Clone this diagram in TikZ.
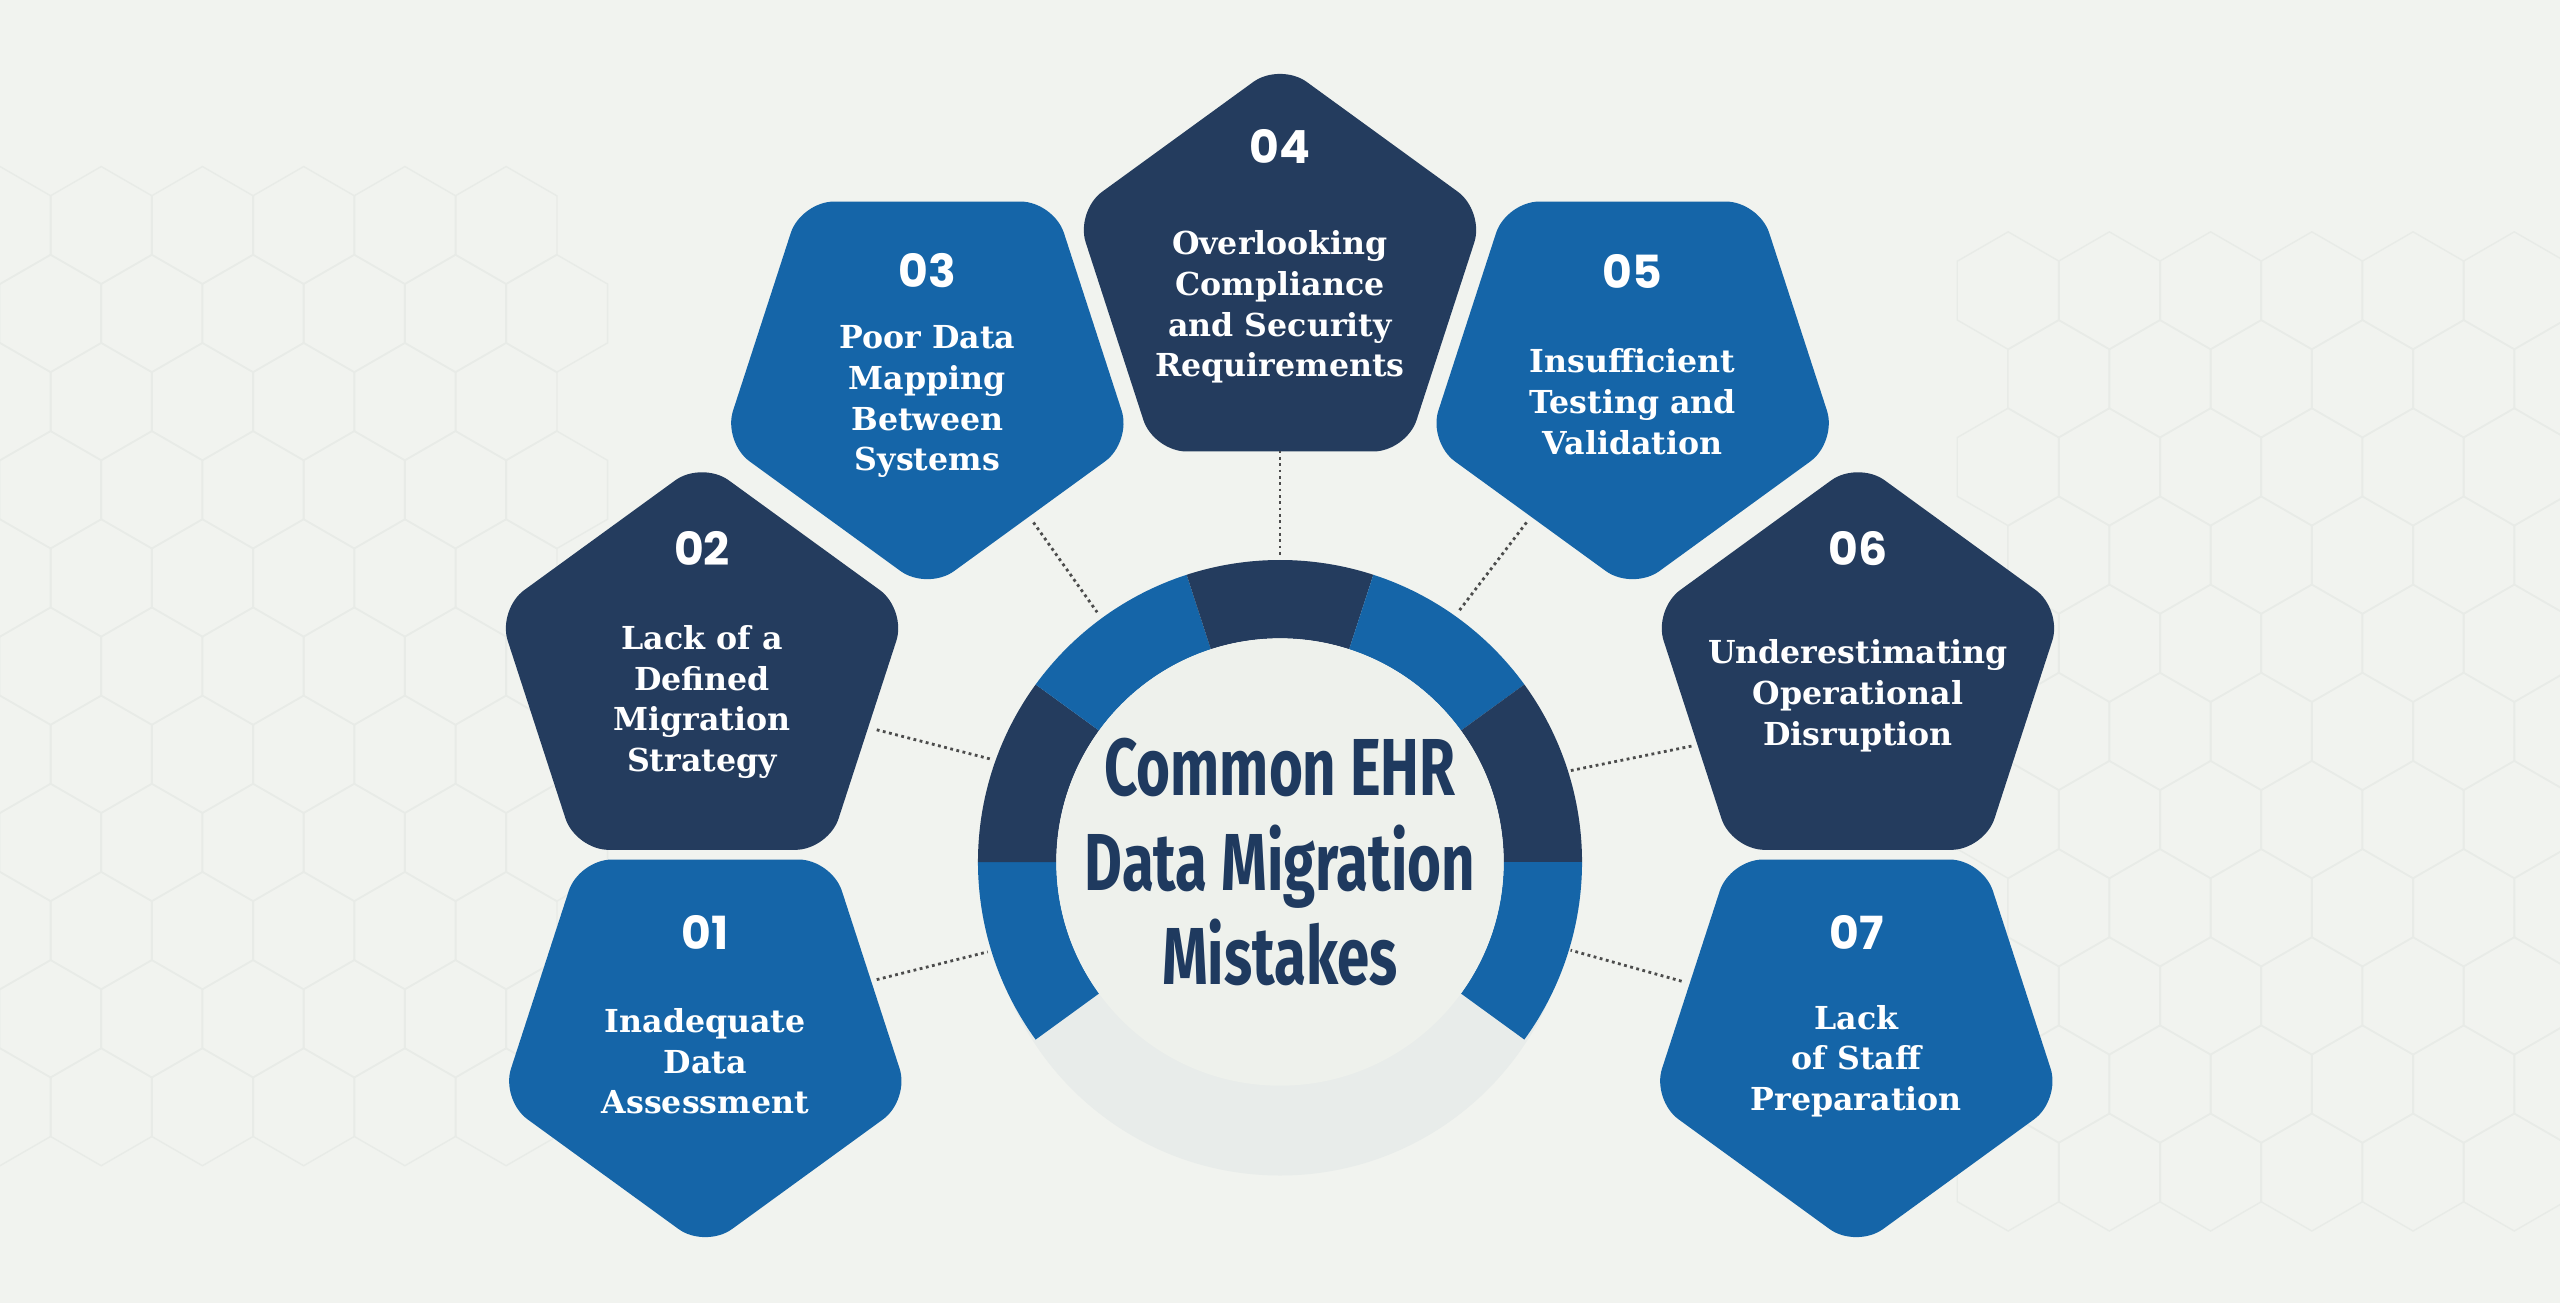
\documentclass[tikz,border=0pt]{standalone}
\usepackage{fontspec}
\setmainfont{DejaVu Serif}
\newfontfamily\numfont{Poppins}
\newfontfamily\titlefont[FakeStretch=0.72]{Fira Sans}
\usetikzlibrary{shapes.geometric, calc}
\definecolor{bgcol}{HTML}{F1F3EF}
\definecolor{hexcol}{HTML}{E8EBE7}
\definecolor{blucol}{HTML}{1565A8}
\definecolor{drkcol}{HTML}{243C5E}
\definecolor{halocol}{HTML}{E8ECEA}
\definecolor{innercol}{HTML}{EEF1EC}
\definecolor{titlecol}{HTML}{1F3A5F}
\tikzset{
  pent/.style={regular polygon, regular polygon sides=5, minimum size=4.3cm,
    inner sep=0pt, rounded corners=0.33cm, draw=none},
  pentdown/.style={pent, shape border rotate=180},
  numtxt/.style={text=white, font=\numfont\bfseries\fontsize{13}{13}\selectfont},
  labtxt/.style={text=white, align=center, font=\bfseries\fontsize{9}{11.6}\selectfont},
  linkline/.style={densely dotted, thick, draw=black!70}
}
\begin{document}
\begin{tikzpicture}[x=0.016327cm, y=0.016327cm]
\fill[bgcol] (0,0) rectangle (1568,798);
\useasboundingbox (0,0) rectangle (1568,798);

% faint hexagons in the background
\foreach \i in {0,...,5}{
  \foreach \j in {0,...,10}{
    \pgfmathsetmacro{\hx}{\i*62+mod(\j,2)*31}
    \pgfmathsetmacro{\hy}{120+\j*54}
    \draw[hexcol] (\hx,\hy) +(30:36) -- +(90:36) -- +(150:36) -- +(210:36) -- +(270:36) -- +(330:36) -- cycle;
    \draw[hexcol] (\hx+1230,\hy-40) +(30:36) -- +(90:36) -- +(150:36) -- +(210:36) -- +(270:36) -- +(330:36) -- cycle;
  }
}

% centre ring
\coordinate (c) at (784,270);
\fill[halocol] (784,258) circle (180);
\foreach \a/\col in {180/blucol, 144/drkcol, 108/blucol, 72/drkcol, 36/blucol, 0/drkcol, -36/blucol}{
  \fill[\col] ($(c)+(\a:185)$) arc[start angle=\a, end angle=\a+36, radius=185]
    -- ($(c)+(\a+36:137)$) arc[start angle=\a+36, end angle=\a, radius=137] -- cycle;
}
\fill[innercol] (c) circle (137);
\node[text=titlecol, align=center, font=\titlefont\bfseries\fontsize{23}{27}\selectfont] (title) at (c) {Common EHR\\Data Migration\\Mistakes};

% pentagons
\node[pentdown, fill=blucol] (p1) at (432,165) {};
\node[pent, fill=drkcol] (p2) at (430,384) {};
\node[pentdown, fill=blucol] (p3) at (568,568) {};
\node[pent, fill=drkcol] (p4) at (784,628) {};
\node[pentdown, fill=blucol] (p5) at (1000,568) {};
\node[pent, fill=drkcol] (p6) at (1138,384) {};
\node[pentdown, fill=blucol] (p7) at (1137,165) {};

\node[numtxt] (n1) at (432,227) {01};
\node[numtxt] (n2) at (430,462) {02};
\node[numtxt] (n3) at (568,632) {03};
\node[numtxt] (n4) at (784,708) {04};
\node[numtxt] (n5) at (1000,632) {05};
\node[numtxt] (n6) at (1138,462) {06};
\node[numtxt] (n7) at (1137,227) {07};

\node[labtxt] (l1) at (432,148) {Inadequate\\Data\\Assessment};
\node[labtxt] (l2) at (430,368) {Lack of a\\Defined\\Migration\\Strategy};
\node[labtxt] (l3) at (568,552) {Poor Data\\Mapping\\Between\\Systems};
\node[labtxt] (l4) at (784,610) {Overlooking\\Compliance\\and Security\\Requirements};
\node[labtxt] (l5) at (1000,552) {Insufficient\\Testing and\\Validation};
\node[labtxt] (l6) at (1138,372) {Underestimating\\Operational\\Disruption};
\node[labtxt] (l7) at (1137,148) {Lack\\of Staff\\Preparation};

% dotted links
\coordinate (a1) at (537,198); \coordinate (b1) at (605,215);
\coordinate (a2) at (537,351); \coordinate (b2) at (607,333);
\coordinate (a3) at (633,478); \coordinate (b3) at (672,423);
\coordinate (a4) at (784,522); \coordinate (b4) at (784,458);
\coordinate (a5) at (935,478); \coordinate (b5) at (893,423);
\coordinate (a6) at (1036,341); \coordinate (b6) at (962,326);
\coordinate (a7) at (1030,197); \coordinate (b7) at (962,216);
\foreach \k in {1,...,7}{
  \draw[linkline] (a\k) -- (b\k);
}
\end{tikzpicture}
\end{document}
